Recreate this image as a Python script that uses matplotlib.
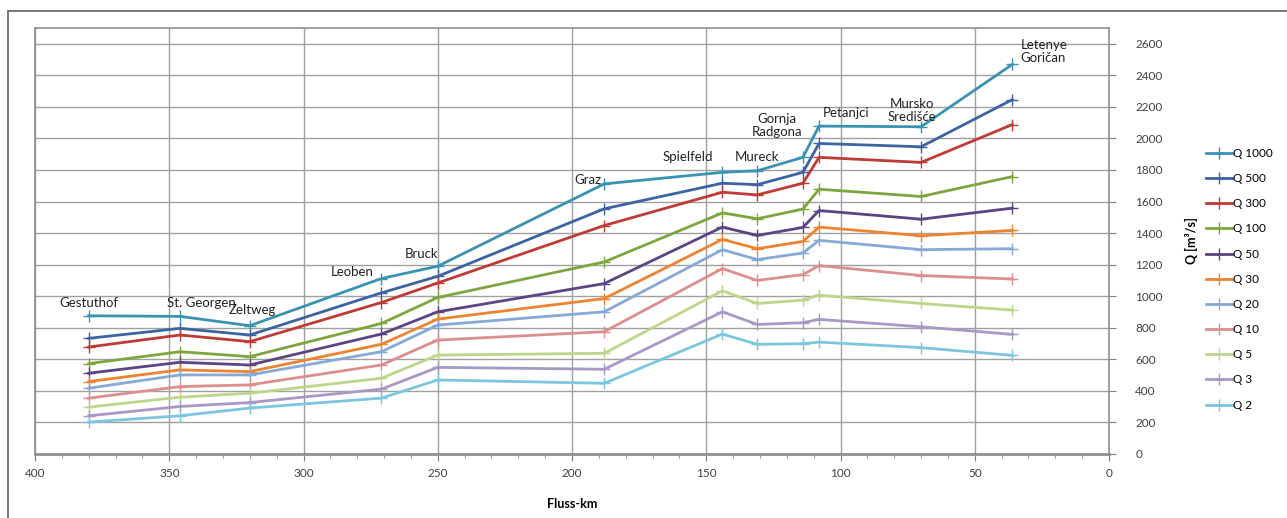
import numpy as np
import matplotlib.pyplot as plt
from matplotlib.patches import Rectangle

# Hochwasserabfluesse entlang der Mur (Fluss-km) fuer verschiedene Jaehrlichkeiten
km = [380, 346, 320, 271, 250, 188, 144, 131, 114, 108, 70, 36]

stations = ["Gestuthof", "St. Georgen", "Zeltweg", "Leoben", "Bruck", "Graz",
            "Spielfeld", "Mureck", "Gornja\nRadgona", "Petanjci",
            "Mursko\nSredišće", "Letenye\nGoričan"]

q1000 = [876, 872, 813, 1112, 1190, 1712, 1785, 1795, 1880, 2078, 2074, 2469]
q500 = [733, 796, 754, 1021, 1126, 1554, 1716, 1707, 1785, 1968, 1947, 2246]
q300 = [678, 754, 712, 960, 1084, 1448, 1659, 1642, 1716, 1880, 1848, 2088]
q100 = [573, 648, 617, 827, 992, 1217, 1528, 1491, 1552, 1678, 1632, 1758]
q50 = [512, 581, 564, 760, 901, 1080, 1438, 1385, 1436, 1543, 1488, 1558]
q30 = [459, 533, 522, 695, 855, 985, 1360, 1301, 1347, 1438, 1383, 1417]
q20 = [417, 501, 501, 648, 817, 901, 1295, 1232, 1274, 1354, 1295, 1301]
q10 = [354, 427, 438, 564, 722, 775, 1175, 1100, 1137, 1194, 1131, 1109]
q5 = [297, 360, 385, 480, 627, 638, 1034, 954, 975, 1006, 954, 912]
q3 = [242, 301, 326, 411, 549, 537, 901, 821, 832, 853, 806, 758]
q2 = [202, 242, 291, 354, 469, 448, 760, 695, 699, 709, 674, 625]

series = [("Q 1000", q1000, "#3a93b3"),
          ("Q 500", q500, "#3c64a3"),
          ("Q 300", q300, "#be3b36"),
          ("Q 100", q100, "#7ea63f"),
          ("Q 50", q50, "#5b4583"),
          ("Q 30", q30, "#ee8330"),
          ("Q 20", q20, "#86a9d8"),
          ("Q 10", q10, "#dc8f8e"),
          ("Q 5", q5, "#bcd68c"),
          ("Q 3", q3, "#a898c4"),
          ("Q 2", q2, "#7dc6e0")]

# Beschriftungspositionen (km, Q) der Pegel
lab_km = [380, 338, 319, 282, 256, 194, 157, 131, 123.5, 98, 73.5, 33]
lab_q = [957, 957, 913, 1154, 1268, 1737, 1883, 1883, 2080, 2162, 2180, 2550]

plt.rcParams['font.family'] = ['Lato', 'DejaVu Sans']

fig = plt.figure(figsize=(12.87, 5.18), dpi=100)
ax = fig.add_axes([0.0272, 0.1236, 0.8345, 0.8224])

fig.patches.append(Rectangle((8 / 1287, -0.05), 1.1, 1 - 11 / 518 + 0.05,
                             transform=fig.transFigure, fill=False,
                             edgecolor="#606060", lw=1.2))

for name, vals, col in series:
    ax.plot(km, vals, "-", color=col, lw=2, marker="+", ms=9, mew=1,
            label=name)

for txt, x, y in zip(stations, lab_km, lab_q):
    ha = "left" if txt.startswith("Letenye") else "center"
    ax.text(x, y, txt, ha=ha, va="center", fontsize=9.5, color="#222222",
            linespacing=1.1)

ax.set_xlim(400, 0)
ax.set_ylim(0, 2700)
ax.set_xticks(np.arange(400, -1, -50))
ax.set_xticks(np.arange(400, -1, -10), minor=True)
ax.set_yticks(np.arange(0, 2601, 200))
ax.yaxis.tick_right()
ax.yaxis.set_label_position("right")
ax.tick_params(axis="x", which="major", length=5, color="#808080",
               labelsize=8.5, labelcolor="#404040", direction="out", pad=5)
ax.tick_params(axis="x", which="minor", length=3, color="#808080")
ax.tick_params(axis="y", length=5, color="#808080", labelsize=8.5,
               labelcolor="#404040", pad=14)
ax.grid(True, which="major", color="#a0a0a0", lw=1)
ax.set_axisbelow(True)
for s in ax.spines.values():
    s.set_color("#909090")
    s.set_linewidth(1.2)
ax.spines["bottom"].set_linewidth(2)

ax.set_xlabel("Fluss-km", fontsize=9, fontweight="bold", labelpad=14)
ax.set_ylabel("Q [m³/s]", fontsize=9, fontweight="bold", labelpad=16)

ax.legend(loc="center left", bbox_to_anchor=(1.08, 0.41), frameon=False,
          fontsize=8.5, handlelength=2.2, labelspacing=1.2,
          handletextpad=0.1)

fig.savefig("out.png", dpi=100)
